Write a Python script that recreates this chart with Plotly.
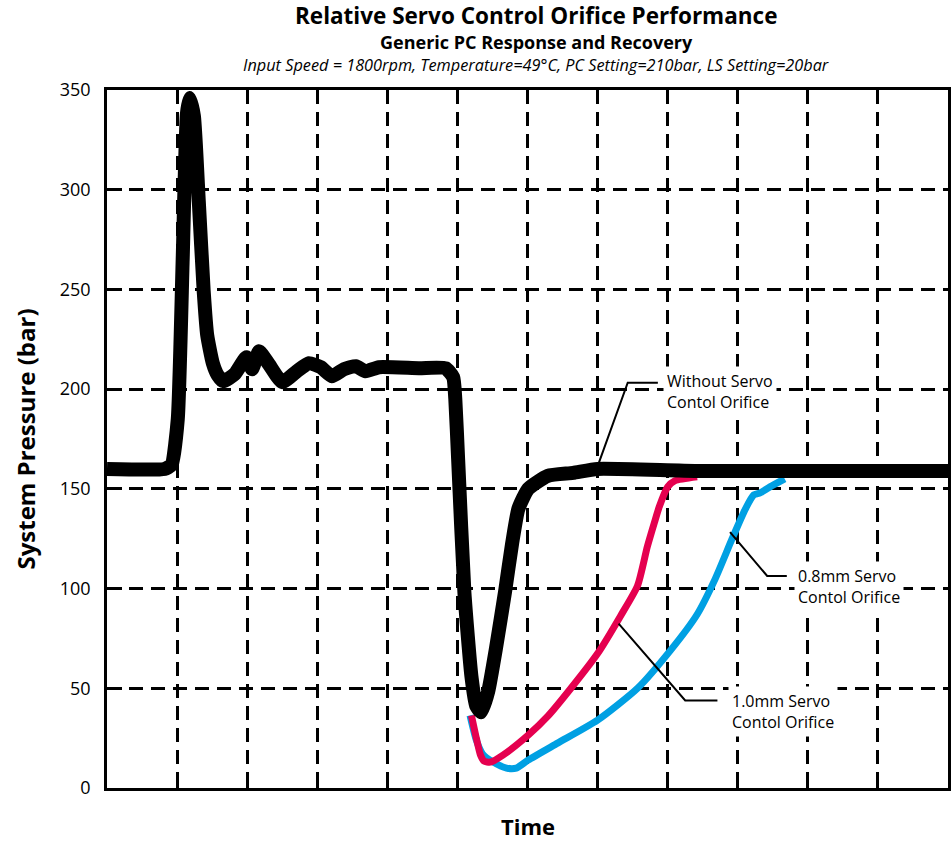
import plotly.graph_objects as go

# Time axis is in arbitrary grid units (12 divisions), pressure in bar
t_base = [0, 0.82, 0.92, 1.01, 1.08, 1.14, 1.18, 1.24, 1.31, 1.38, 1.43, 1.51, 1.58, 1.66,
          1.82, 1.99, 2.07, 2.17, 2.31, 2.50, 2.71, 2.88, 3.05, 3.21, 3.38, 3.55,
          3.69, 3.88, 4.45, 4.83, 4.94, 4.97, 5.01, 5.10, 5.20, 5.27, 5.34, 5.44,
          5.55, 5.68, 5.78, 5.87, 6.01, 6.29, 6.65, 7.00, 8.42, 12.0]
p_base = [160, 160, 162, 185, 265, 338, 346, 337, 294, 249, 227, 213, 207, 204,
          207.5, 216, 210, 219, 212.5, 203.5, 209, 213, 211, 206.5, 210, 211.5,
          209, 211, 210.5, 210.5, 206, 195, 165, 98, 56, 41, 38, 48.5,
          70, 98.5, 122.5, 140, 150, 156.5, 158, 160, 159, 159]

t_10 = [5.20, 5.27, 5.33, 5.38, 5.47, 5.65, 6.01, 6.29, 6.62, 7.00, 7.33, 7.57,
        7.71, 7.81, 7.88, 8.00, 8.10, 8.42]
p_10 = [36.4, 25, 16.5, 13.5, 13, 16.5, 26.5, 36, 50, 67.4, 86.4, 101.4,
        121, 133, 141, 151, 154, 156]

t_08 = [5.18, 5.27, 5.36, 5.51, 5.70, 5.84, 6.01, 6.43, 7.00, 7.57, 8.04, 8.42,
        8.68, 8.92, 9.11, 9.23, 9.32, 9.46, 9.67]
p_08 = [36.4, 24, 17, 13, 10, 10, 14, 22.5, 34, 50, 69, 87,
        105, 125, 140, 147, 148, 151, 155]

y_ticks = [0, 50, 100, 150, 200, 250, 300, 350]

FONT = "Open Sans"

fig = go.Figure()
fig.add_trace(go.Scatter(x=t_08, y=p_08, mode="lines",
                         line=dict(color="#00a0e3", width=7, shape="spline", smoothing=0.6)))
fig.add_trace(go.Scatter(x=t_10, y=p_10, mode="lines",
                         line=dict(color="#e5004f", width=7, shape="spline", smoothing=0.6)))
fig.add_trace(go.Scatter(x=t_base, y=p_base, mode="lines",
                         line=dict(color="black", width=14, shape="spline", smoothing=0.5)))

# leader lines for the curve labels
leaders = [
    [(7.00, 161.3), (7.43, 203.2), (7.86, 203.2)],
    [(8.89, 128.3), (9.42, 106.3), (9.70, 106.3)],
    [(7.30, 82.4), (8.25, 43.9), (8.71, 43.9)],
]
for pts in leaders:
    path = "M " + " L ".join(f"{x},{y}" for x, y in pts)
    fig.add_shape(type="path", path=path, xref="x", yref="y",
                  line=dict(color="black", width=2))

labels = [
    (7.94, 198.7, "Without Servo<br>Contol Orifice"),
    (9.80, 100.8, "0.8mm Servo<br>Contol Orifice"),
    (8.86, 38.4, "1.0mm Servo<br>Contol Orifice"),
]
for x, y, txt in labels:
    fig.add_annotation(x=x, y=y, xref="x", yref="y", text=txt, showarrow=False,
                       xanchor="left", yanchor="middle", align="left",
                       font=dict(family=FONT, size=16, color="black"),
                       bgcolor="white", borderpad=3)

# titles
fig.add_annotation(x=0.5107, y=1.1067, xref="paper", yref="paper", showarrow=False,
                   text="<b>Relative Servo Control Orifice Performance</b>", borderpad=0,
                   font=dict(family=FONT, size=22.5, color="black"), yanchor="middle")
fig.add_annotation(x=0.5107, y=1.0681, xref="paper", yref="paper", showarrow=False,
                   text="<b>Generic PC Response and Recovery</b>", borderpad=0,
                   font=dict(family=FONT, size=18, color="black"), yanchor="middle")
fig.add_annotation(x=0.5107, y=1.0358, xref="paper", yref="paper", showarrow=False,
                   text="<i>Input Speed = 1800rpm, Temperature=49°C, PC Setting=210bar, LS Setting=20bar</i>",
                   borderpad=0, font=dict(family=FONT, size=16.3, color="black"), yanchor="middle")
fig.add_annotation(x=-0.098, y=0.5, xref="paper", yref="paper", showarrow=False,
                   text="<b>System Pressure (bar)</b>", textangle=-90,
                   xanchor="center", yanchor="middle",
                   font=dict(family=FONT, size=24, color="black"))
fig.add_annotation(x=0.5, y=-0.0544, xref="paper", yref="paper", showarrow=False,
                   text="<b>Time</b>", yanchor="middle", borderpad=0,
                   font=dict(family=FONT, size=22, color="black"))

grid = dict(showgrid=True, gridcolor="black", gridwidth=2.5, griddash="14px,8px",
            showline=True, linecolor="black", linewidth=2.5, mirror=True,
            ticks="inside", ticklen=15, tickwidth=2.5, tickcolor="black", zeroline=False)

fig.update_xaxes(range=[0, 12], dtick=1, showticklabels=False, **grid)
fig.update_yaxes(range=[0, 350], tickvals=y_ticks, ticklabelstandoff=10,
                 tickfont=dict(family=FONT, size=18, color="black"), **grid)

fig.update_layout(width=952, height=841, showlegend=False,
                  margin=dict(l=107, r=1, t=90, b=53),
                  plot_bgcolor="white", paper_bgcolor="white")

fig.write_html("out.html")
